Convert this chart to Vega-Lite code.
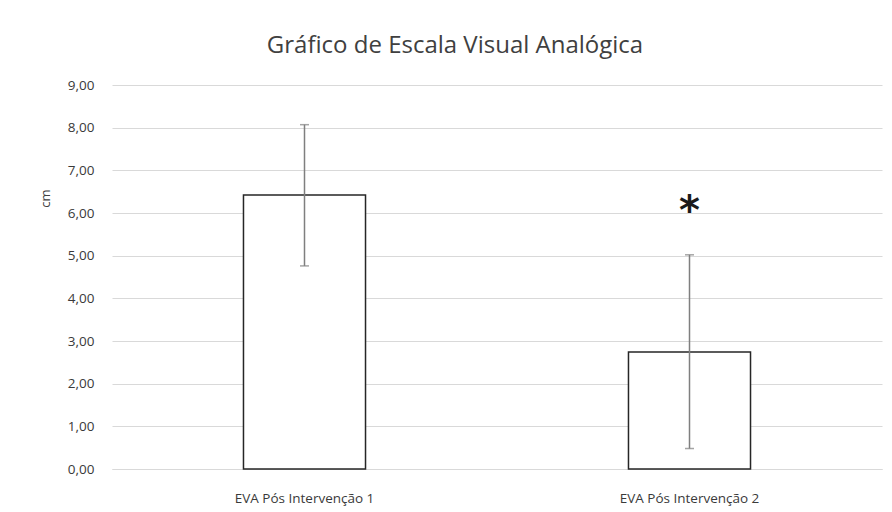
{
  "$schema": "https://vega.github.io/schema/vega-lite/v6.json",
  "width": 770,
  "height": 384,
  "autosize": {"type": "none"},
  "padding": {"left": 112, "top": 85, "right": 10, "bottom": 43},
  "background": "white",
  "config": {
    "view": {"stroke": null},
    "axisY": {
      "titleFont": "Open Sans",
      "titleFontSize": 13,
      "titleFontWeight": "normal",
      "titleColor": "#404040",
      "titleX": -67,
      "titleY": 113,
      "titleAngle": -90,
      "titleAlign": "center",
      "titleBaseline": "middle",
      "labelFont": "Open Sans",
      "labelFontSize": 13.5,
      "labelColor": "#3a3a3a",
      "labelPadding": 18,
      "labelOverlap": false,
      "ticks": false,
      "domain": false,
      "gridColor": "#d9d9d9",
      "gridWidth": 1
    }
  },
  "title": {
    "text": "Gráfico de Escala Visual Analógica",
    "font": "Open Sans",
    "fontSize": 24,
    "fontWeight": "normal",
    "color": "#404040",
    "anchor": "middle",
    "dx": -42,
    "offset": 20
  },
  "data": {
    "values": [
      {"grupo": "EVA Pós Intervenção 1", "media": 6.42, "lo": 4.76, "hi": 8.07, "sig": "", "sigy": 6.23},
      {"grupo": "EVA Pós Intervenção 2", "media": 2.74, "lo": 0.48, "hi": 5.02, "sig": "*", "sigy": 6.23}
    ]
  },
  "encoding": {
    "x": {
      "field": "grupo",
      "type": "nominal",
      "sort": null,
      "scale": {"paddingInner": 0.683, "paddingOuter": 0.3415},
      "axis": {
        "title": null,
        "labelAngle": 0,
        "labelFont": "Open Sans",
        "labelFontSize": 13.5,
        "labelColor": "#3a3a3a",
        "labelPadding": 22,
        "ticks": false,
        "domainColor": "#d9d9d9",
        "domainWidth": 1
      }
    }
  },
  "layer": [
    {
      "mark": {"type": "bar", "fill": "white", "stroke": "#262626", "strokeWidth": 1.5},
      "encoding": {
        "y": {
          "field": "media",
          "type": "quantitative",
          "scale": {"domain": [0, 9], "nice": false},
          "axis": {"title": "cm", "values": [0, 1, 2, 3, 4, 5, 6, 7, 8, 9], "labelExpr": "replace(format(datum.value, '.2f'), '.', ',')"}
        }
      }
    },
    {
      "mark": {"type": "rule", "color": "#7f7f7f", "strokeWidth": 1.5},
      "encoding": {
        "y": {"field": "lo", "type": "quantitative", "axis": {"title": "cm", "values": [0, 1, 2, 3, 4, 5, 6, 7, 8, 9], "labelExpr": "replace(format(datum.value, '.2f'), '.', ',')"}},
        "y2": {"field": "hi"}
      }
    },
    {
      "mark": {"type": "tick", "color": "#7f7f7f", "size": 9, "thickness": 1.5, "orient": "horizontal"},
      "encoding": {
        "y": {"field": "lo", "type": "quantitative", "axis": {"title": "cm", "values": [0, 1, 2, 3, 4, 5, 6, 7, 8, 9], "labelExpr": "replace(format(datum.value, '.2f'), '.', ',')"}}
      }
    },
    {
      "mark": {"type": "tick", "color": "#7f7f7f", "size": 9, "thickness": 1.5, "orient": "horizontal"},
      "encoding": {
        "y": {"field": "hi", "type": "quantitative", "axis": {"title": "cm", "values": [0, 1, 2, 3, 4, 5, 6, 7, 8, 9], "labelExpr": "replace(format(datum.value, '.2f'), '.', ',')"}}
      }
    },
    {
      "mark": {"type": "text", "font": "DejaVu Sans", "fontSize": 40, "fontWeight": "bold", "color": "#1a1a1a", "baseline": "middle", "dy": 9},
      "encoding": {
        "y": {"field": "sigy", "type": "quantitative", "axis": {"title": "cm", "values": [0, 1, 2, 3, 4, 5, 6, 7, 8, 9], "labelExpr": "replace(format(datum.value, '.2f'), '.', ',')"}},
        "text": {"field": "sig"}
      }
    }
  ]
}
